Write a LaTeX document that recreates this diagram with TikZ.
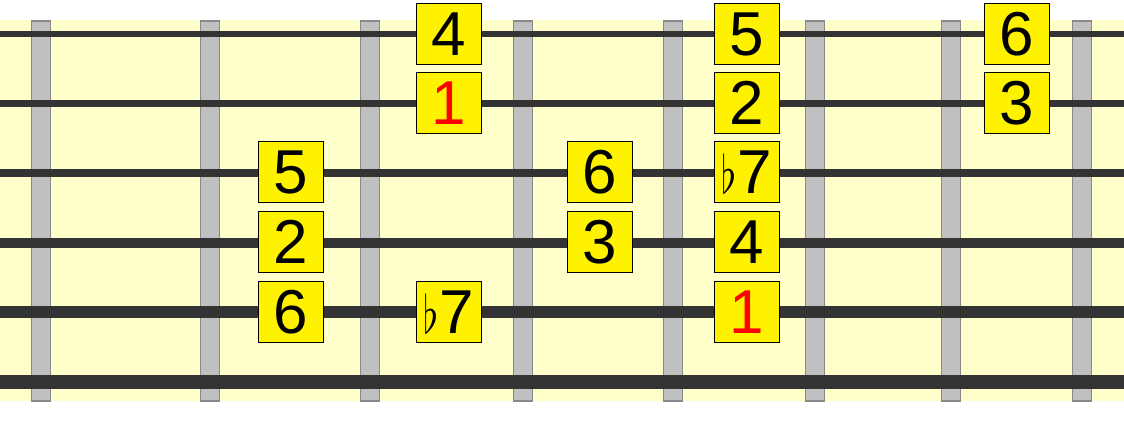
\documentclass[tikz,border=0pt]{standalone}
\usepackage{graphicx}
\usepackage{fontspec}
\setmainfont{Liberation Sans}
\definecolor{bgyellow}{RGB}{255,255,204}
\definecolor{fretfill}{RGB}{192,192,192}
\definecolor{fretedge}{RGB}{136,136,136}
\definecolor{stringcol}{RGB}{51,51,51}
\definecolor{notefill}{RGB}{255,242,0}
\newcommand{\fl}{\smash{\scalebox{3.9}[5.3]{\fontsize{10}{12}\selectfont$\flat$}}}
\tikzset{
  fretbar/.style={fill=fretfill,draw=fretedge,line width=1.5},
  stringline/.style={draw=stringcol},
  notebox/.style={draw=black,fill=notefill,line width=1.6,minimum width=65,minimum height=61,inner sep=0,
    font=\fontsize{62}{62}\selectfont},
  rootnote/.style={notebox,text=red}
}
\begin{document}
\begin{tikzpicture}[x=1pt,y=-1pt]
\useasboundingbox (0,0) rectangle (1124,424);
\fill[bgyellow] (0,20) rectangle (1124,401);
% frets
\foreach \fx [count=\i] in {41,210,370,523,673,815,951,1082}
  \draw[fretbar] (\fx-9.5,21) rectangle (\fx+9.5,401);
% strings
\foreach \sy/\sw in {34/6,103.5/7,173/8,242.5/10,312/12,382/14}
  \draw[stringline,line width=\sw] (0,\sy) -- (1124,\sy);
% notes
\node[notebox] (n1a) at (449,34) {4};
\node[rootnote] (n2a) at (449,103) {1};
\node[notebox] (n1b) at (747,34) {5};
\node[notebox] (n2b) at (747,103) {2};
\node[notebox] (n1c) at (1017,34) {6};
\node[notebox] (n2c) at (1017,103) {3};
\node[notebox] (n3a) at (291,172) {5};
\node[notebox] (n4a) at (291,242) {2};
\node[notebox] (n5a) at (291,312) {6};
\node[notebox] (n5b) at (449,312) {\fl\kern1pt 7};
\node[notebox] (n3b) at (600,172) {6};
\node[notebox] (n4b) at (600,242) {3};
\node[notebox] (n3c) at (747,172) {\fl\kern1pt 7};
\node[notebox] (n4c) at (747,242) {4};
\node[rootnote] (n5c) at (747,312) {1};
\end{tikzpicture}
\end{document}
